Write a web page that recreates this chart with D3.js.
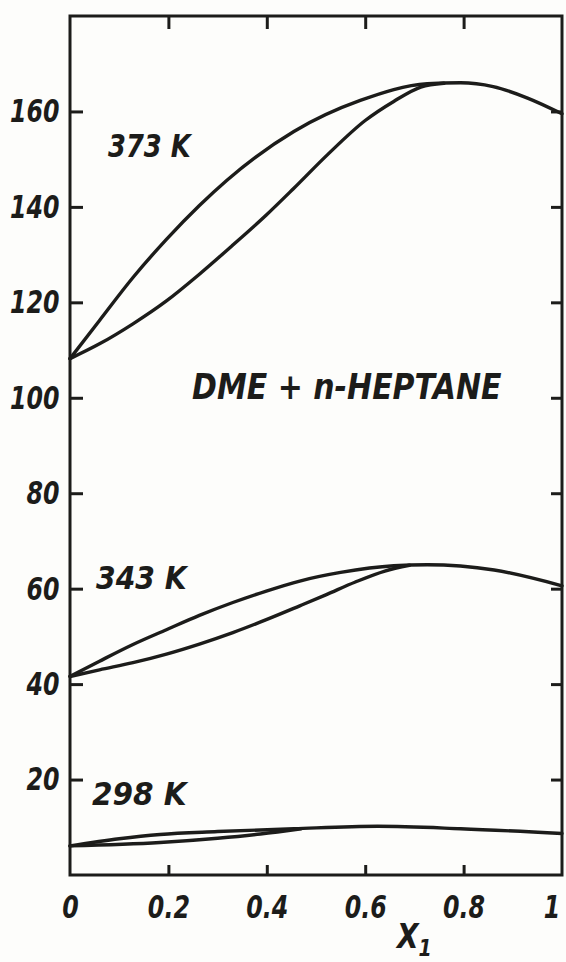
<!DOCTYPE html>
<html lang="en">
<head>
    <meta charset="UTF-8">
    <title>DME + n-heptane P-x</title>
    <script src="https://d3js.org/d3.v7.min.js"></script>
    <style>
        body { margin: 0; background: #fdfdfb; }
        text { font-family: "DejaVu Sans", sans-serif; font-weight: bold; font-style: italic; fill: #1c1c1a; }
    </style>
</head>
<body>
    <script>
        // values (pressure vs mole fraction x1)
        const xTicks = [0, 0.2, 0.4, 0.6, 0.8, 1];
        const yTicks = [20, 40, 60, 80, 100, 120, 140, 160];

        const x373Up = [0, 0.06, 0.128, 0.196, 0.263, 0.319, 0.455, 0.59, 0.726, 0.794, 0.86, 0.93, 1];
        const y373Up = [108.2, 116.2, 125.2, 133.2, 140.3, 145.6, 155.8, 162.3, 165.8, 166, 165.2, 162.8, 159.5];
        const x373Lo = [0, 0.06, 0.128, 0.196, 0.263, 0.331, 0.399, 0.454, 0.523, 0.6, 0.658, 0.713, 0.76];
        const y373Lo = [108.2, 111.3, 115.5, 120.3, 125.9, 132.0, 138.3, 143.8, 150.9, 158.1, 162.1, 165.1, 165.9];

        const x343Up = [0, 0.06, 0.128, 0.196, 0.263, 0.331, 0.399, 0.467, 0.55, 0.658, 0.726, 0.862, 1];
        const y343Up = [41.6, 44.8, 48.3, 51.4, 54.4, 57.1, 59.5, 61.6, 63.4, 64.8, 65, 63.9, 60.6];
        const x343Lo = [0, 0.06, 0.128, 0.196, 0.263, 0.331, 0.399, 0.467, 0.52, 0.58, 0.64, 0.69];
        const y343Lo = [41.6, 43.0, 44.5, 46.3, 48.4, 50.8, 53.5, 56.4, 58.7, 61.4, 63.7, 64.9];

        const x298Up = [0, 0.1, 0.183, 0.3, 0.455, 0.625, 0.794, 1];
        const y298Up = [6.1, 7.6, 8.5, 9.1, 9.7, 10.2, 9.7, 8.7];
        const x298Lo = [0, 0.183, 0.3, 0.387, 0.47];
        const y298Lo = [6.1, 6.8, 7.7, 8.6, 9.7];

        const curveLabels = ["373 K", "343 K", "298 K"];
        const title = "DME + n-HEPTANE";

        const width = 566, height = 962;
        const margin = { left: 70, right: 4, top: 16, bottom: 87 };

        const svg = d3.select("body").append("svg")
            .attr("width", width)
            .attr("height", height);

        const x = d3.scaleLinear().domain([0, 1]).range([margin.left, width - margin.right]);
        const y = d3.scaleLinear().domain([0, 180]).range([height - margin.bottom, margin.top]);

        const ink = "#1c1c1a";

        // axes, ticks pointing inward on all four sides
        const fmtX = d => d === 0 ? "0" : d === 1 ? "1" : d3.format(".1f")(d);

        const gx = svg.append("g")
            .attr("transform", `translate(0,${y(0)})`)
            .call(d3.axisBottom(x).tickValues(xTicks).tickFormat(fmtX).tickSize(-10).tickPadding(15));
        const gxt = svg.append("g")
            .attr("transform", `translate(0,${y(180)})`)
            .call(d3.axisTop(x).tickValues(xTicks.slice(1, -1)).tickFormat("").tickSize(-13));
        const gy = svg.append("g")
            .attr("transform", `translate(${x(0)},0)`)
            .call(d3.axisLeft(y).tickValues(yTicks).tickSize(-13).tickPadding(11));
        const gyr = svg.append("g")
            .attr("transform", `translate(${x(1)},0)`)
            .call(d3.axisRight(y).tickValues(yTicks).tickFormat("").tickSize(-11));

        [gx, gxt, gy, gyr].forEach(g => {
            g.select(".domain").remove();
            g.selectAll(".tick line").attr("stroke", ink).attr("stroke-width", 3);
        });
        gx.selectAll(".tick line").filter(d => d === 0 || d === 1).remove();

        gy.selectAll(".tick text")
            .attr("font-size", 25)
            .attr("transform", "scale(0.95,1.3)");
        gx.selectAll(".tick text")
            .attr("font-size", 25)
            .attr("transform", "scale(0.95,1.3)")
            .attr("dx", d => d === 1 ? -11 : 0);

        // frame
        svg.append("rect")
            .attr("x", x(0)).attr("y", y(180))
            .attr("width", x(1) - x(0)).attr("height", y(0) - y(180))
            .attr("fill", "none").attr("stroke", ink).attr("stroke-width", 3);

        // curves
        const line = d3.line()
            .x(d => x(d[0]))
            .y(d => y(d[1]))
            .curve(d3.curveMonotoneX);

        const series = [
            [x373Up, y373Up], [x373Lo, y373Lo],
            [x343Up, y343Up], [x343Lo, y343Lo],
            [x298Up, y298Up], [x298Lo, y298Lo]
        ];

        svg.selectAll("path.curve")
            .data(series.map(([xs, ys]) => xs.map((v, i) => [v, ys[i]])))
            .enter().append("path")
            .attr("class", "curve")
            .attr("d", line)
            .attr("fill", "none")
            .attr("stroke", ink)
            .attr("stroke-width", 3.4)
            .attr("stroke-linecap", "round");

        // labels
        function label(text, cx, cy, size, sx, sy) {
            svg.append("text")
                .attr("transform", `translate(${cx},${cy}) scale(${sx},${sy})`)
                .attr("dy", "0.36em")
                .attr("font-size", size)
                .text(text);
        }
        label(curveLabels[0], 108, 146, 25, 1.03, 1.25);
        label(curveLabels[1], 96, 578, 25, 1.13, 1.25);
        label(curveLabels[2], 92, 794, 25, 1.18, 1.25);
        label(title, 192, 386, 30, 1, 1.2);

        const xl = svg.append("text")
            .attr("transform", `translate(${x(0.7)},${948}) scale(1,1.2)`)
            .attr("text-anchor", "middle")
            .attr("font-size", 28);
        xl.append("tspan").text("X");
        xl.append("tspan").attr("font-size", 19).attr("dy", 7).text("1");
    </script>
</body>
</html>
